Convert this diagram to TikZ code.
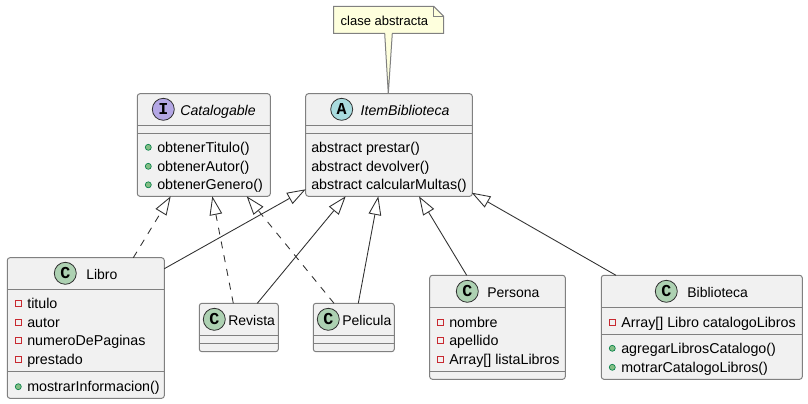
\documentclass[tikz,border=0pt]{standalone}
\usepackage{fontspec}
\setmainfont{Liberation Sans}
\newfontfamily\spotfont{Liberation Mono}
\usetikzlibrary{arrows.meta,calc}
\definecolor{boxfill}{HTML}{F1F1F1}
\definecolor{boxline}{HTML}{808080}
\definecolor{ink}{HTML}{303030}
\definecolor{notefill}{HTML}{FEFFDD}
\definecolor{spotC}{HTML}{ADD1B2}
\definecolor{spotI}{HTML}{B4A7E5}
\definecolor{spotA}{HTML}{A9DCDF}
\definecolor{pubfill}{HTML}{84BE84}
\definecolor{publine}{HTML}{038048}
\definecolor{privline}{HTML}{C82930}
\tikzset{
  x=0.75pt,y=-0.75pt,
  box/.style={draw=boxline,fill=boxfill,line width=0.75pt,rounded corners=2pt,inner sep=0pt,outer sep=0pt,rectangle},
  sepline/.style={draw=boxline,line width=0.75pt},
  spot/.style={circle,draw=ink,line width=0.6pt,minimum size=16.5pt,inner sep=0pt,font=\spotfont\bfseries\fontsize{12.5}{12.5}\selectfont,text=black},
  txt/.style={anchor=base west,inner sep=0pt,outer sep=0pt,font=\fontsize{10.7}{12}\selectfont,text=black},
  title/.style={txt,font=\fontsize{10.5}{12}\selectfont},
  ititle/.style={txt,font=\itshape\fontsize{10.6}{12}\selectfont},
  notetxt/.style={txt,font=\fontsize{9.75}{12}\selectfont},
  pub/.style={circle,draw=publine,fill=pubfill,line width=0.5pt,minimum size=4.5pt,inner sep=0pt},
  priv/.style={rectangle,draw=privline,line width=0.75pt,minimum size=4.5pt,inner sep=0pt},
  ext/.style={draw=ink,line width=0.65pt,-{Triangle[fill=white,length=14pt,width=9.5pt]}},
  impl/.style={ext,dash pattern=on 5.25pt off 5.25pt},
}
\newcommand{\classbox}[5]{\node[box,anchor=north west,minimum width=(#4-#2)*0.75pt,minimum height=(#5-#3)*0.75pt] (#1) at (#2,#3) {};}
\newcommand{\seprow}[2]{\draw[sepline] (#1.west |- 0,#2) -- (#1.east |- 0,#2);}
\newcommand{\mempub}[4]{\node[pub] (#1d) at (#2+3,#3-5) {};\node[txt] (#1) at (#2+12,#3) {#4};}
\newcommand{\mempriv}[4]{\node[priv] (#1d) at (#2+3,#3-5) {};\node[txt] (#1) at (#2+12,#3) {#4};}
\begin{document}
\begin{tikzpicture}
\useasboundingbox (0,0) rectangle (808,404);
\fill[white] (0,0) rectangle (808,404);

% classes
\classbox{cat}{137.3}{93.7}{270.3}{196.3}
\classbox{item}{305.7}{93.7}{472.3}{196.3}
\classbox{lib}{7.3}{257.7}{164.3}{398.3}
\classbox{rev}{199.3}{303.3}{278.3}{351.7}
\classbox{pel}{313.3}{303.3}{394.3}{351.7}
\classbox{per}{429.7}{275.3}{565.3}{379.3}
\classbox{bib}{601.3}{275.3}{802.3}{379.3}

\seprow{cat}{125.7}\seprow{cat}{133.3}
\seprow{item}{125.7}\seprow{item}{133.3}
\seprow{lib}{289}\seprow{lib}{371.7}
\seprow{rev}{335.3}\seprow{rev}{343.3}
\seprow{pel}{335.3}\seprow{pel}{343.3}
\seprow{per}{307.3}\seprow{per}{371.3}
\seprow{bib}{307.3}\seprow{bib}{334.3}

% spots
\node[spot,fill=spotI] (catS) at (163.3,109.3) {I};
\node[spot,fill=spotA] (itemS) at (341.7,109.3) {A};
\node[spot,fill=spotC] (libS) at (65.3,273.3) {C};
\node[spot,fill=spotC] (revS) at (214.3,319.3) {C};
\node[spot,fill=spotC] (pelS) at (328.3,319.3) {C};
\node[spot,fill=spotC] (perS) at (467.3,291.3) {C};
\node[spot,fill=spotC] (bibS) at (666.3,291.3) {C};

% titles
\node[ititle] (catT) at (180.3,115) {Catalogable};
\node[ititle] (itemT) at (360.7,115) {ItemBiblioteca};
\node[title] (libT) at (86.3,279.3) {Libro};
\node[title] (revT) at (228.3,325) {Revista};
\node[title] (pelT) at (342.3,325) {Pelicula};
\node[title] (perT) at (487.3,297.3) {Persona};
\node[title] (bibT) at (687.3,297.3) {Biblioteca};

% members
\mempub{c1}{145.3}{152.3}{obtenerTitulo()}
\mempub{c2}{145.3}{171.3}{obtenerAutor()}
\mempub{c3}{145.3}{189.8}{obtenerGenero()}
\node[txt] (i1) at (311.3,152.3) {abstract prestar()};
\node[txt] (i2) at (311.3,171.3) {abstract devolver()};
\node[txt] (i3) at (311.3,189.8) {abstract calcularMultas()};
\mempriv{l1}{15.3}{308.3}{titulo}
\mempriv{l2}{15.3}{327.3}{autor}
\mempriv{l3}{15.3}{345.3}{numeroDePaginas}
\mempriv{l4}{15.3}{364.3}{prestado}
\mempub{l5}{15.3}{391.7}{mostrarInformacion()}
\mempriv{p1}{437.3}{327.3}{nombre}
\mempriv{p2}{437.3}{345.3}{apellido}
\mempriv{p3}{437.3}{364.3}{Array[] listaLibros}
\mempriv{b1}{609.3}{327.3}{Array[] Libro catalogoLibros}
\mempub{b2}{609.3}{353.3}{agregarLibrosCatalogo()}
\mempub{b3}{609.3}{372.3}{motrarCatalogoLibros()}

% note
\coordinate (noteTip) at ($(item.north west)+(82.6,0)$);
\draw[draw=boxline,fill=notefill,line width=0.75pt]
  (333.7,6.3) -- (433.7,6.3) -- (443.7,16.3) -- (443.7,33.3) -- (392.3,33.3)
  -- (noteTip) -- (384.7,33.3) -- (333.7,33.3) -- cycle;
\draw[draw=boxline,line width=0.75pt] (433.7,6.3) -- (433.7,16.3) -- (443.7,16.3);
\node[notetxt] (note) at (340.7,25.2) {clase abstracta};

% connectors
\draw[impl] ($(lib.north west)+(126,0)$) -- ($(cat.south west)+(33.4,0)$);
\draw[impl] ($(rev.north west)+(34,0)$) -- ($(cat.south west)+(75,0)$);
\draw[impl] ($(pel.north west)+(20.7,0)$) -- ($(cat.south west)+(109.4,0)$);
\draw[ext] ($(lib.north east)+(0,11)$) -- ($(item.south west)+(0,-7)$);
\draw[ext] ($(rev.north west)+(58,0)$) -- ($(item.south west)+(40,0)$);
\draw[ext] ($(pel.north west)+(45,0)$) -- ($(item.south west)+(72.6,0)$);
\draw[ext] ($(per.north west)+(37,0)$) -- ($(item.south west)+(113.3,0)$);
\draw[ext] ($(bib.north west)+(14.7,0)$) -- ($(item.south east)+(-0.6,-3.6)$);
\end{tikzpicture}
\end{document}
